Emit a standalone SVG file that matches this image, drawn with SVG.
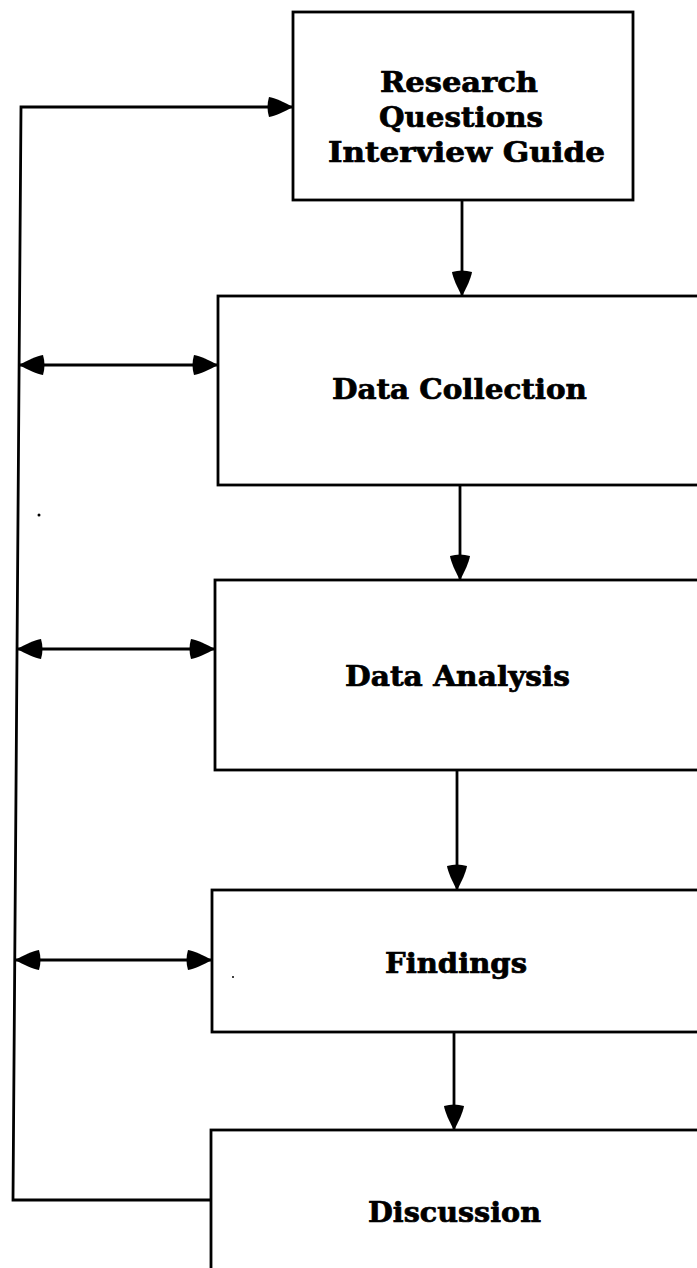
<svg xmlns="http://www.w3.org/2000/svg" width="697" height="1268" viewBox="0 0 697 1268">
<style>
  .box { fill: #ffffff; stroke: #000000; stroke-width: 2.8; }
  .conn { fill: none; stroke: #000000; stroke-width: 2.8; }
  .lbl { font-family: "DejaVu Serif", "Liberation Serif", serif; font-weight: bold; font-size: 27px; fill: #000000; stroke: #000000; stroke-width: 0.7; }
</style>
<defs>
  <marker id="ah" markerUnits="userSpaceOnUse" markerWidth="28" markerHeight="22" viewBox="0 0 28 22" refX="26" refY="11" orient="auto-start-reverse">
    <path d="M26,11 C17,6 8,2 2,1 Q-1,11 2,21 C8,20 17,16 26,11 Z" fill="#000000"/>
  </marker>
</defs>
<rect width="697" height="1268" fill="#ffffff"/>

<g id="connectors">
  <path class="conn" d="M211,1200 L13,1200 L21,107 L293,107" marker-end="url(#ah)"/>
  <line class="conn" x1="19" y1="365" x2="218" y2="365" marker-start="url(#ah)" marker-end="url(#ah)"/>
  <line class="conn" x1="17" y1="649" x2="215" y2="649" marker-start="url(#ah)" marker-end="url(#ah)"/>
  <line class="conn" x1="15" y1="960" x2="212" y2="960" marker-start="url(#ah)" marker-end="url(#ah)"/>
  <line class="conn" x1="462" y1="200" x2="462" y2="296" marker-end="url(#ah)"/>
  <line class="conn" x1="460" y1="485" x2="460" y2="580" marker-end="url(#ah)"/>
  <line class="conn" x1="457" y1="770" x2="457" y2="890" marker-end="url(#ah)"/>
  <line class="conn" x1="454" y1="1032" x2="454" y2="1130" marker-end="url(#ah)"/>
</g>

<g id="node-research">
  <rect class="box" x="293" y="12" width="340" height="188"/>
  <text class="lbl" x="380" y="92" textLength="158" lengthAdjust="spacingAndGlyphs">Research</text>
  <text class="lbl" x="379" y="127" textLength="164" lengthAdjust="spacingAndGlyphs">Questions</text>
  <text class="lbl" x="328" y="162" textLength="277" lengthAdjust="spacingAndGlyphs">Interview Guide</text>
</g>

<g id="node-data-collection">
  <rect class="box" x="218" y="296" width="490" height="189"/>
  <text class="lbl" x="332" y="399" textLength="255" lengthAdjust="spacingAndGlyphs">Data Collection</text>
</g>

<g id="node-data-analysis">
  <rect class="box" x="215" y="580" width="493" height="190"/>
  <text class="lbl" x="345" y="686" textLength="225" lengthAdjust="spacingAndGlyphs">Data Analysis</text>
</g>

<g id="node-findings">
  <rect class="box" x="212" y="890" width="496" height="142"/>
  <text class="lbl" x="385" y="973" textLength="142" lengthAdjust="spacingAndGlyphs">Findings</text>
</g>

<g id="node-discussion">
  <rect class="box" x="211" y="1130" width="497" height="150"/>
  <text class="lbl" x="368" y="1222" textLength="173" lengthAdjust="spacingAndGlyphs">Discussion</text>
</g>

<circle cx="39" cy="515" r="1.5" fill="#000000"/>
<circle cx="233" cy="977" r="1" fill="#000000"/>
</svg>
